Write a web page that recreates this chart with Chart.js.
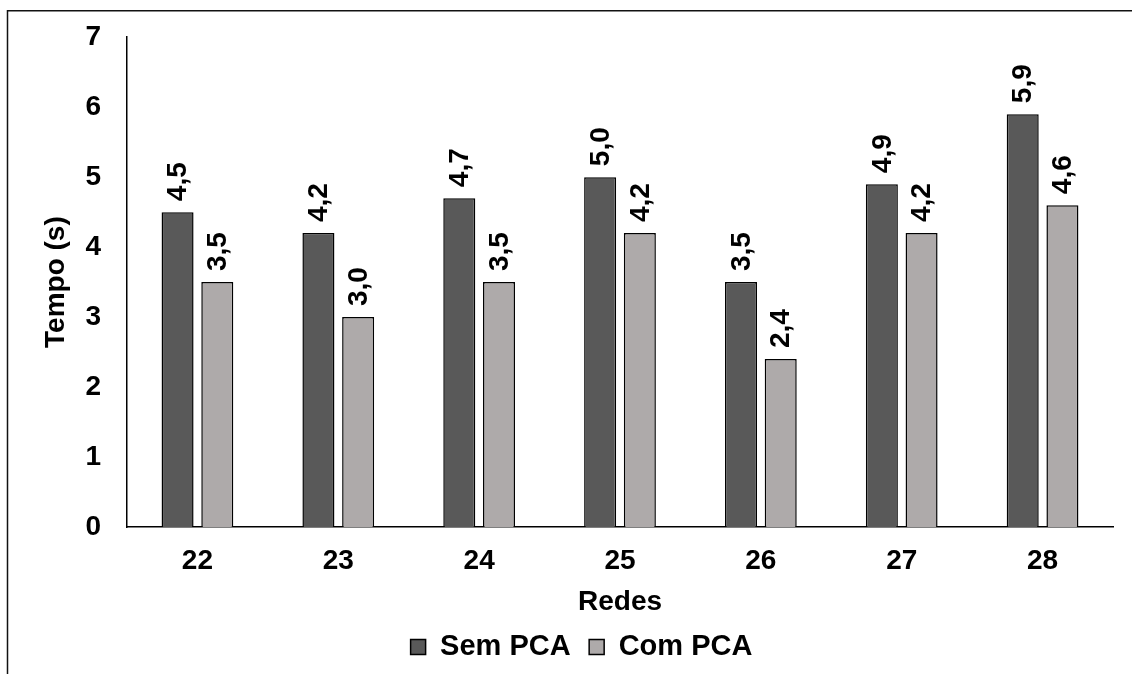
<!DOCTYPE html>
<html>
<head>
<meta charset="utf-8">
<script src="https://cdn.jsdelivr.net/npm/chart.js"></script>
<style>
  html, body { margin: 0; padding: 0; background: #fff; }
  canvas { display: block; }
</style>
</head>
<body>
<canvas id="c" width="1132" height="674"></canvas>
<script>
// Processing time per network, without and with PCA
const redes = ['22', '23', '24', '25', '26', '27', '28'];
const semPCA = [4.5, 4.2, 4.7, 5.0, 3.5, 4.9, 5.9];
const comPCA = [3.5, 3.0, 3.5, 4.2, 2.4, 4.2, 4.6];
const yTicks = [0, 1, 2, 3, 4, 5, 6, 7];

const FONT = '"Liberation Sans", Arial, sans-serif';

// White page with the partial outer frame (top and left edges);
// the legend row sits a little right of the page centre.
const framePlugin = {
  id: 'frame',
  afterLayout(chart) {
    chart.legend.left += 25;
    chart.legend.right += 25;
  },
  beforeDraw(chart) {
    const ctx = chart.ctx;
    ctx.save();
    ctx.fillStyle = '#fff';
    ctx.fillRect(0, 0, chart.width, chart.height);
    ctx.strokeStyle = '#111';
    ctx.lineWidth = 1.5;
    ctx.beginPath();
    ctx.moveTo(7.5, chart.height);
    ctx.lineTo(7.5, 10.75);
    ctx.lineTo(chart.width, 10.75);
    ctx.stroke();
    ctx.restore();
  }
};

// Vertical value labels above each bar, decimal comma
const valueLabels = {
  id: 'valueLabels',
  afterDatasetsDraw(chart) {
    const ctx = chart.ctx;
    ctx.save();
    ctx.font = 'bold 28px ' + FONT;
    ctx.fillStyle = '#000';
    ctx.textAlign = 'left';
    ctx.textBaseline = 'middle';
    chart.data.datasets.forEach((ds, di) => {
      chart.getDatasetMeta(di).data.forEach((bar, i) => {
        const txt = ds.data[i].toFixed(1).replace('.', ',');
        ctx.save();
        ctx.translate(bar.x + 1, bar.y - 11);
        ctx.rotate(-Math.PI / 2);
        ctx.fillText(txt, 0, 0);
        ctx.restore();
      });
    });
    ctx.restore();
  }
};

new Chart(document.getElementById('c'), {
  type: 'bar',
  data: {
    labels: redes,
    datasets: [
      {
        label: 'Sem PCA',
        data: semPCA,
        backgroundColor: '#595959',
        borderColor: '#000',
        borderWidth: 1.5,
        categoryPercentage: 0.564,
        barPercentage: 0.806
      },
      {
        label: 'Com PCA',
        data: comPCA,
        backgroundColor: '#aeaaaa',
        borderColor: '#000',
        borderWidth: 1.5,
        categoryPercentage: 0.564,
        barPercentage: 0.806
      }
    ]
  },
  options: {
    responsive: false,
    animation: false,
    devicePixelRatio: 1,
    layout: { padding: { top: 37, right: 19, left: 0, bottom: 2.5 } },
    plugins: {
      tooltip: { enabled: false },
      legend: {
        position: 'bottom',
        labels: {
          boxWidth: 15,
          boxHeight: 15,
          padding: 18.5,
          color: '#000',
          font: { family: FONT, size: 29, weight: 'bold' }
        }
      }
    },
    scales: {
      x: {
        grid: { display: false, drawTicks: false },
        border: { display: true, color: '#000', width: 1.5 },
        ticks: {
          color: '#000',
          padding: 17,
          font: { family: FONT, size: 28, weight: 'bold' }
        },
        title: {
          display: true,
          text: 'Redes',
          color: '#000',
          padding: { top: 0, bottom: 0 },
          font: { family: FONT, size: 28, weight: 'bold', lineHeight: 0.85 }
        },
        afterFit(scale) { scale.height = 87; }
      },
      y: {
        min: 0,
        max: 7,
        grid: { display: false, drawTicks: false },
        border: { display: true, color: '#000', width: 1.5 },
        afterBuildTicks(scale) { scale.ticks = yTicks.map(v => ({ value: v })); },
        ticks: {
          color: '#000',
          padding: 26,
          font: { family: FONT, size: 28, weight: 'bold', lineHeight: 0.8 }
        },
        title: {
          display: true,
          text: 'Tempo (s)',
          color: '#000',
          padding: { top: 42, bottom: 0 },
          font: { family: FONT, size: 28, weight: 'bold', lineHeight: 1 }
        },
        afterFit(scale) { scale.width = 127; }
      }
    }
  },
  plugins: [framePlugin, valueLabels]
});
</script>
</body>
</html>
